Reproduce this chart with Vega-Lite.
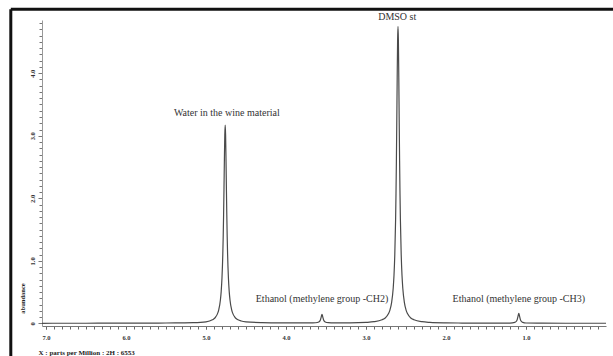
{
  "$schema": "https://vega.github.io/schema/vega-lite/v6.json",
  "autosize": "none",
  "width": 564,
  "height": 306,
  "padding": {"left": 42, "top": 20, "right": 7, "bottom": 30},
  "background": "white",
  "config": {"view": {"stroke": null}},
  "datasets": {
    "spectrum": [
      {"ppm": 7.05, "abundance": 0.003},
      {"ppm": 6.8, "abundance": 0.004},
      {"ppm": 6.5, "abundance": 0.004},
      {"ppm": 6.2, "abundance": 0.005},
      {"ppm": 6.0, "abundance": 0.005},
      {"ppm": 5.7, "abundance": 0.006},
      {"ppm": 5.5, "abundance": 0.008},
      {"ppm": 5.3, "abundance": 0.010},
      {"ppm": 5.16, "abundance": 0.013},
      {"ppm": 5.0, "abundance": 0.027},
      {"ppm": 4.92, "abundance": 0.059},
      {"ppm": 4.9, "abundance": 0.076},
      {"ppm": 4.88, "abundance": 0.103},
      {"ppm": 4.86, "abundance": 0.146},
      {"ppm": 4.84, "abundance": 0.223},
      {"ppm": 4.82, "abundance": 0.376},
      {"ppm": 4.81, "abundance": 0.514},
      {"ppm": 4.8, "abundance": 0.736},
      {"ppm": 4.79, "abundance": 1.108},
      {"ppm": 4.785, "abundance": 1.384},
      {"ppm": 4.78, "abundance": 1.736},
      {"ppm": 4.775, "abundance": 2.164},
      {"ppm": 4.77, "abundance": 2.627},
      {"ppm": 4.765, "abundance": 3.014},
      {"ppm": 4.76, "abundance": 3.17},
      {"ppm": 4.755, "abundance": 3.014},
      {"ppm": 4.75, "abundance": 2.627},
      {"ppm": 4.745, "abundance": 2.164},
      {"ppm": 4.74, "abundance": 1.736},
      {"ppm": 4.735, "abundance": 1.384},
      {"ppm": 4.73, "abundance": 1.108},
      {"ppm": 4.72, "abundance": 0.736},
      {"ppm": 4.71, "abundance": 0.514},
      {"ppm": 4.7, "abundance": 0.376},
      {"ppm": 4.68, "abundance": 0.223},
      {"ppm": 4.66, "abundance": 0.146},
      {"ppm": 4.64, "abundance": 0.103},
      {"ppm": 4.62, "abundance": 0.076},
      {"ppm": 4.6, "abundance": 0.059},
      {"ppm": 4.56, "abundance": 0.040},
      {"ppm": 4.5, "abundance": 0.027},
      {"ppm": 4.3, "abundance": 0.015},
      {"ppm": 4.0, "abundance": 0.010},
      {"ppm": 3.8, "abundance": 0.009},
      {"ppm": 3.7, "abundance": 0.009},
      {"ppm": 3.63, "abundance": 0.012},
      {"ppm": 3.59, "abundance": 0.025},
      {"ppm": 3.57, "abundance": 0.056},
      {"ppm": 3.56, "abundance": 0.103},
      {"ppm": 3.55, "abundance": 0.146},
      {"ppm": 3.54, "abundance": 0.103},
      {"ppm": 3.53, "abundance": 0.056},
      {"ppm": 3.51, "abundance": 0.025},
      {"ppm": 3.47, "abundance": 0.013},
      {"ppm": 3.4, "abundance": 0.009},
      {"ppm": 3.2, "abundance": 0.010},
      {"ppm": 3.0, "abundance": 0.018},
      {"ppm": 2.9, "abundance": 0.029},
      {"ppm": 2.8, "abundance": 0.061},
      {"ppm": 2.76, "abundance": 0.088},
      {"ppm": 2.72, "abundance": 0.155},
      {"ppm": 2.7, "abundance": 0.219},
      {"ppm": 2.68, "abundance": 0.334},
      {"ppm": 2.66, "abundance": 0.563},
      {"ppm": 2.65, "abundance": 0.77},
      {"ppm": 2.64, "abundance": 1.103},
      {"ppm": 2.63, "abundance": 1.66},
      {"ppm": 2.625, "abundance": 2.073},
      {"ppm": 2.62, "abundance": 2.601},
      {"ppm": 2.615, "abundance": 3.243},
      {"ppm": 2.61, "abundance": 3.937},
      {"ppm": 2.605, "abundance": 4.517},
      {"ppm": 2.6, "abundance": 4.75},
      {"ppm": 2.595, "abundance": 4.517},
      {"ppm": 2.59, "abundance": 3.937},
      {"ppm": 2.585, "abundance": 3.243},
      {"ppm": 2.58, "abundance": 2.601},
      {"ppm": 2.575, "abundance": 2.073},
      {"ppm": 2.57, "abundance": 1.66},
      {"ppm": 2.56, "abundance": 1.103},
      {"ppm": 2.55, "abundance": 0.77},
      {"ppm": 2.54, "abundance": 0.563},
      {"ppm": 2.52, "abundance": 0.334},
      {"ppm": 2.5, "abundance": 0.219},
      {"ppm": 2.48, "abundance": 0.155},
      {"ppm": 2.44, "abundance": 0.088},
      {"ppm": 2.4, "abundance": 0.061},
      {"ppm": 2.3, "abundance": 0.029},
      {"ppm": 2.2, "abundance": 0.018},
      {"ppm": 2.0, "abundance": 0.010},
      {"ppm": 1.8, "abundance": 0.0075},
      {"ppm": 1.5, "abundance": 0.006},
      {"ppm": 1.2, "abundance": 0.0065},
      {"ppm": 1.14, "abundance": 0.018},
      {"ppm": 1.12, "abundance": 0.036},
      {"ppm": 1.11, "abundance": 0.062},
      {"ppm": 1.1, "abundance": 0.115},
      {"ppm": 1.09, "abundance": 0.164},
      {"ppm": 1.08, "abundance": 0.115},
      {"ppm": 1.07, "abundance": 0.062},
      {"ppm": 1.06, "abundance": 0.036},
      {"ppm": 1.04, "abundance": 0.018},
      {"ppm": 1.0, "abundance": 0.008},
      {"ppm": 0.8, "abundance": 0.005},
      {"ppm": 0.5, "abundance": 0.004},
      {"ppm": 0.0, "abundance": 0.004}
    ],
    "labels": [
      {"ppm": 4.74, "abundance": 3.36, "text": "Water in the wine material"},
      {"ppm": 2.61, "abundance": 4.9, "text": "DMSO st"},
      {"ppm": 3.55, "abundance": 0.384, "text": "Ethanol (methylene group -CH2)"},
      {"ppm": 1.09, "abundance": 0.384, "text": "Ethanol (methylene group -CH3)"}
    ]
  },
  "resolve": {"axis": {"x": "independent", "y": "independent"}},
  "layer": [
    {
      "data": {"name": "spectrum"},
      "mark": {"type": "line", "opacity": 0, "clip": false},
      "encoding": {
        "x": {
          "field": "ppm", "type": "quantitative",
          "scale": {"domain": [7.05, 0.0], "nice": false, "zero": false},
          "axis": {
            "orient": "bottom", "title": null, "labels": false, "domain": false, "grid": false,
            "values": [7.0,6.9,6.8,6.7,6.6,6.5,6.4,6.3,6.2,6.1,6.0,5.9,5.8,5.7,5.6,5.5,5.4,5.3,5.2,5.1,5.0,4.9,4.8,4.7,4.6,4.5,4.4,4.3,4.2,4.1,4.0,3.9,3.8,3.7,3.6,3.5,3.4,3.3,3.2,3.1,3.0,2.9,2.8,2.7,2.6,2.5,2.4,2.3,2.2,2.1,2.0,1.9,1.8,1.7,1.6,1.5,1.4,1.3,1.2,1.1,1.0,0.9,0.8,0.7,0.6,0.5,0.4,0.3,0.2,0.1],
            "tickSize": 3, "tickColor": "#666666", "tickWidth": 1
          }
        },
        "y": {
          "field": "abundance", "type": "quantitative",
          "scale": {"domain": [-0.04, 4.85], "nice": false, "zero": false},
          "axis": {
            "orient": "left", "title": null, "labels": false, "domain": false, "grid": false,
            "values": [0,0.1,0.2,0.3,0.4,0.5,0.6,0.7,0.8,0.9,1.0,1.1,1.2,1.3,1.4,1.5,1.6,1.7,1.8,1.9,2.0,2.1,2.2,2.3,2.4,2.5,2.6,2.7,2.8,2.9,3.0,3.1,3.2,3.3,3.4,3.5,3.6,3.7,3.8,3.9,4.0,4.1,4.2,4.3,4.4,4.5,4.6,4.7,4.8],
            "tickSize": 3, "tickColor": "#777777", "tickWidth": 1
          }
        }
      }
    },
    {
      "data": {"name": "spectrum"},
      "mark": {"type": "line", "color": "#4a4a4a", "strokeWidth": 1.2, "interpolate": "monotone", "clip": false},
      "encoding": {
        "x": {
          "field": "ppm", "type": "quantitative",
          "axis": {
            "orient": "bottom",
            "title": "X : parts per Million : 2H : 6553",
            "values": [7.0, 6.0, 5.0, 4.0, 3.0, 2.0, 1.0],
            "format": ".1f",
            "labelFont": "Liberation Serif", "labelFontSize": 6.5, "labelFontWeight": "bold", "labelColor": "#333333",
            "labelPadding": 5, "labelOverlap": false, "labelFlush": false,
            "tickSize": 3, "tickColor": "#666666", "tickWidth": 1,
            "domainColor": "#777777", "domainWidth": 1,
            "grid": false,
            "titleFont": "Liberation Serif", "titleFontSize": 7, "titleFontWeight": "bold", "titleColor": "#222222",
            "titleAnchor": "start", "titleAlign": "left", "titleX": -4, "titleY": 26, "titleBaseline": "middle"
          }
        },
        "y": {
          "field": "abundance", "type": "quantitative",
          "axis": {
            "orient": "left",
            "title": "abundance",
            "values": [0, 1, 2, 3, 4],
            "labelExpr": "datum.value == 0 ? '0' : format(datum.value, '.1f')",
            "labelFont": "Liberation Serif", "labelFontSize": 6.5, "labelFontWeight": "bold", "labelColor": "#333333",
            "labelAngle": 270, "labelAlign": "center", "labelBaseline": "bottom", "labelPadding": 3,
            "labelOverlap": false, "labelFlush": false,
            "tickSize": 4, "tickColor": "#777777", "tickWidth": 1,
            "domainColor": "#999999", "domainWidth": 1,
            "grid": false,
            "titleFont": "Liberation Serif", "titleFontSize": 6.5, "titleFontWeight": "bold", "titleColor": "#222222",
            "titleAngle": 270, "titleX": -20, "titleY": 278, "titleAlign": "center", "titleBaseline": "middle"
          }
        }
      }
    },
    {
      "data": {"name": "labels"},
      "mark": {"type": "text", "font": "Liberation Serif", "fontSize": 10, "color": "#333333", "align": "center", "baseline": "middle", "clip": false},
      "encoding": {
        "x": {"field": "ppm", "type": "quantitative", "axis": null},
        "y": {"field": "abundance", "type": "quantitative", "axis": null},
        "text": {"field": "text"}
      }
    },
    {
      "data": {"values": [{}]},
      "mark": {"type": "rule", "color": "#111111", "strokeWidth": 3, "clip": false},
      "encoding": {
        "x": {"datum": 7.44, "type": "quantitative", "axis": null},
        "y": {"datum": 5.02, "type": "quantitative", "axis": null},
        "y2": {"datum": -0.6}
      }
    },
    {
      "data": {"values": [{}]},
      "mark": {"type": "rule", "color": "#111111", "strokeWidth": 3, "clip": false},
      "encoding": {
        "x": {"datum": 7.44, "type": "quantitative", "axis": null},
        "x2": {"datum": -0.2},
        "y": {"datum": 5.02, "type": "quantitative", "axis": null}
      }
    }
  ]
}
